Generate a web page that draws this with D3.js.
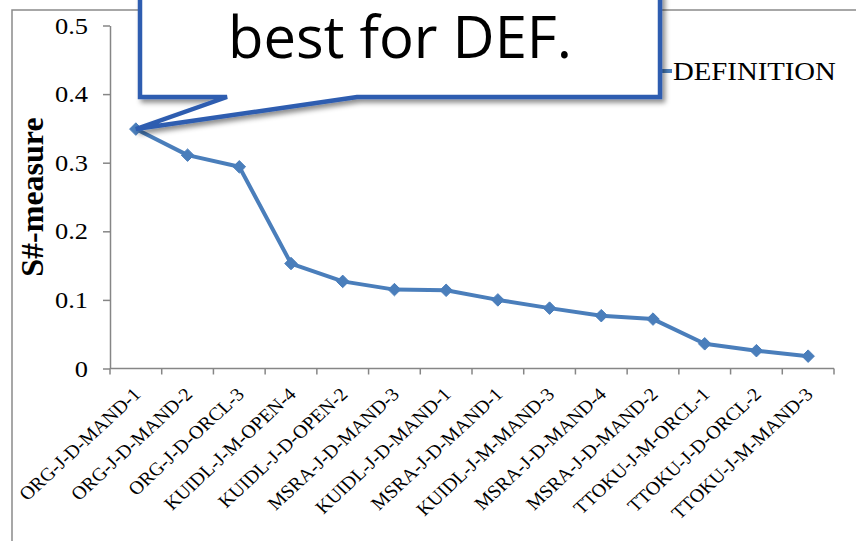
<!DOCTYPE html>
<html>
<head>
<meta charset="utf-8">
<script src="https://cdn.jsdelivr.net/npm/d3@7/dist/d3.min.js"></script>
<style>
  html, body { margin: 0; padding: 0; background: #fff; }
  svg { display: block; }
</style>
</head>
<body>
<svg id="chart" width="856" height="541"></svg>
<script>
// Runs ranked by S#-measure on the DEFINITION questions
const categories = [
  "ORG-J-D-MAND-1", "ORG-J-D-MAND-2", "ORG-J-D-ORCL-3", "KUIDL-J-M-OPEN-4",
  "KUIDL-J-D-OPEN-2", "MSRA-J-D-MAND-3", "KUIDL-J-D-MAND-1", "MSRA-J-D-MAND-1",
  "KUIDL-J-M-MAND-3", "MSRA-J-D-MAND-4", "MSRA-J-D-MAND-2", "TTOKU-J-M-ORCL-1",
  "TTOKU-J-D-ORCL-2", "TTOKU-J-M-MAND-3"
];
const definitionScores = [
  0.349, 0.311, 0.294, 0.153, 0.127, 0.115, 0.114,
  0.100, 0.088, 0.077, 0.072, 0.036, 0.026, 0.018
];
const yTicks = [0, 0.1, 0.2, 0.3, 0.4, 0.5];
const seriesName = "DEFINITION";
const axisTitle = "S#-measure";
const calloutText = "best for DEF.";

const svg = d3.select("#chart");
const serif = "'Liberation Serif', 'Times New Roman', serif";
const lineColor = "#4a7ebb";
const axisColor = "#868686";
const widen = 1.15;     // horizontal text is set slightly wide
const widenCat = 1.08;  // category labels

const x = d3.scaleBand().domain(categories).range([110, 834]).padding(0);
const y = d3.scaleLinear().domain([0, 0.5]).range([368.5, 25.5]);
const cx = d => x(d) + x.bandwidth() / 2;

// Drop shadow for the callout
const defs = svg.append("defs");
const f = defs.append("filter").attr("id", "shadow")
  .attr("x", "-10%").attr("y", "-10%").attr("width", "130%").attr("height", "140%");
f.append("feDropShadow").attr("dx", 3).attr("dy", 3.5)
  .attr("stdDeviation", 2.5).attr("flood-color", "#000").attr("flood-opacity", 0.45);

// Chart area frame
svg.append("rect")
  .attr("x", 12).attr("y", 10).attr("width", 900).attr("height", 600)
  .attr("fill", "none").attr("stroke", "#8a8a8a").attr("stroke-width", 1.5);

// Y axis
const yAxis = svg.append("g").attr("transform", "translate(110,0)")
  .call(d3.axisLeft(y).tickValues(yTicks).tickSize(7).tickSizeOuter(0)
    .tickFormat(d => d === 0 ? "0" : d3.format(".1f")(d)));
yAxis.select(".domain").attr("stroke", axisColor).attr("stroke-width", 1.5);
yAxis.selectAll(".tick line").attr("stroke", axisColor).attr("stroke-width", 1.5);
yAxis.selectAll(".tick text")
  .attr("x", -22 / widen).attr("dy", "0.33em")
  .attr("transform", `scale(${widen},1)`)
  .attr("font-family", serif).attr("font-size", 23).attr("fill", "#000");

// X axis: tick marks on category boundaries
const xAxis = svg.append("g").attr("transform", `translate(0,${y(0)})`);
xAxis.append("line")
  .attr("x1", x.range()[0]).attr("x2", x.range()[1])
  .attr("stroke", axisColor).attr("stroke-width", 1.5);
const bounds = categories.map(c => x(c)).concat([x.range()[1]]);
xAxis.selectAll("line.tick").data(bounds).join("line")
  .attr("class", "tick")
  .attr("x1", d => d).attr("x2", d => d).attr("y1", 0).attr("y2", 6)
  .attr("stroke", axisColor).attr("stroke-width", 1.5);
xAxis.selectAll("text").data(categories).join("text")
  .attr("transform", d => `translate(${cx(d) + 6},${27}) scale(${widenCat},1) rotate(-45)`)
  .attr("text-anchor", "end")
  .attr("font-family", serif).attr("font-size", 18.5).attr("fill", "#000")
  .text(d => d);

// Y axis title
svg.append("text")
  .attr("transform", "translate(43,197) rotate(-90)")
  .attr("text-anchor", "middle")
  .attr("font-family", serif).attr("font-size", 32).attr("font-weight", "bold")
  .attr("fill", "#000")
  .text(axisTitle);

// Series line
const pts = categories.map((c, i) => [cx(c), y(definitionScores[i])]);
svg.append("path")
  .attr("d", d3.line()(pts))
  .attr("fill", "none").attr("stroke", lineColor)
  .attr("stroke-width", 4).attr("stroke-linejoin", "round");

const diamond = d3.symbol().type(d3.symbolDiamond2).size(100);
svg.selectAll("path.marker").data(pts).join("path")
  .attr("class", "marker")
  .attr("transform", d => `translate(${d[0]},${d[1]})`)
  .attr("d", diamond)
  .attr("fill", lineColor).attr("stroke", lineColor).attr("stroke-width", 1);

// Legend
const legend = svg.append("g");
legend.append("line")
  .attr("x1", 640).attr("x2", 672).attr("y1", 71).attr("y2", 71)
  .attr("stroke", lineColor).attr("stroke-width", 4);
legend.append("path")
  .attr("transform", "translate(656,71)").attr("d", diamond).attr("fill", lineColor);
legend.append("text")
  .attr("transform", `translate(673,80) scale(${widen},1)`)
  .attr("font-family", serif).attr("font-size", 25).attr("fill", "#000")
  .text(seriesName);

// Callout pointing at the top-ranked run
const tip = pts[0];
const boxL = 140, boxR = 660, boxB = 97, boxT = -20;
const callout = svg.append("g");
callout.append("path")
  .attr("d", d3.line()([
    [boxL, boxT], [boxL, boxB], [227, boxB], tip, [357, boxB],
    [boxR, boxB], [boxR, boxT]
  ]) + "Z")
  .attr("fill", "#fff").attr("stroke", "#2e5db0").attr("stroke-width", 4.5)
  .attr("stroke-linejoin", "miter").attr("filter", "url(#shadow)");
callout.append("text")
  .attr("x", (boxL + boxR) / 2).attr("y", 58)
  .attr("text-anchor", "middle")
  .attr("font-family", "'Open Sans', 'Noto Sans', sans-serif").attr("font-size", 58)
  .attr("fill", "#000")
  .text(calloutText);
</script>
</body>
</html>
